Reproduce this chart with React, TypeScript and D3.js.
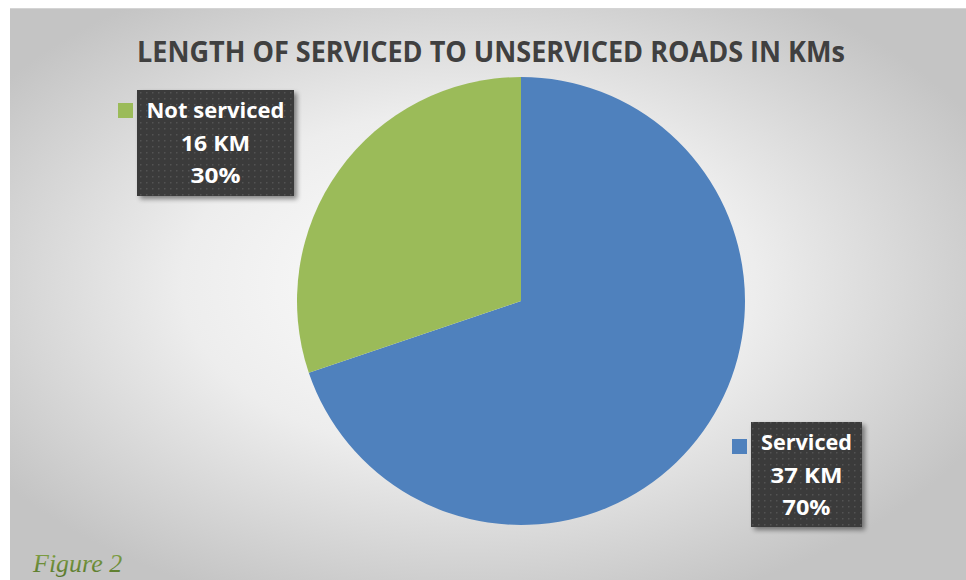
import React from "react";
import * as d3 from "d3";

const categories = ["Serviced", "Not serviced"];
const values = [37, 16];
const valueLabels = ["37 KM", "16 KM"];
const percentLabels = ["70%", "30%"];
const colors = ["#4f81bd", "#9bbb59"];
const title = "LENGTH OF SERVICED TO UNSERVICED ROADS IN KMs";
const caption = "Figure 2";

const W = 966;
const H = 580;

export default function App() {
  const cx = 521;
  const cy = 301;
  const r = 224;
  const pie = d3.pie<number>().sort(null).value((d) => d);
  const arcs = pie(values);
  const arcGen = d3.arc<d3.PieArcDatum<number>>().innerRadius(0).outerRadius(r);

  const boxes = [
    { x: 751, y: 422, w: 111, h: 105, sq: { x: 732, y: 439 }, tw: [91, 72, 48] },
    { x: 137, y: 90, w: 157, h: 106, sq: { x: 118, y: 103 }, tw: [138, 69, 50] },
  ];

  return (
    <svg
      width={W}
      height={H}
      style={{ position: "absolute", left: 0, top: 0, display: "block" }}
      xmlns="http://www.w3.org/2000/svg"
    >
      <defs>
        <radialGradient id="bg" cx="0.48" cy="0.48" r="0.6">
          <stop offset="0" stopColor="#ffffff" />
          <stop offset="0.5" stopColor="#ededed" />
          <stop offset="1" stopColor="#c4c4c4" />
        </radialGradient>
        <pattern id="dots" width="6" height="6" patternUnits="userSpaceOnUse">
          <rect width="6" height="6" fill="#3a3a3a" />
          <rect x="2" y="2" width="1.5" height="1.5" fill="#525252" />
        </pattern>
        <filter id="shadow" x="-10%" y="-10%" width="130%" height="130%">
          <feGaussianBlur in="SourceAlpha" stdDeviation="2.5" />
          <feOffset dx="3" dy="3" result="b" />
          <feComponentTransfer>
            <feFuncA type="linear" slope="0.45" />
          </feComponentTransfer>
          <feMerge>
            <feMergeNode />
            <feMergeNode in="SourceGraphic" />
          </feMerge>
        </filter>
        <linearGradient id="cap" x1="0" y1="0" x2="0" y2="1">
          <stop offset="0" stopColor="#86a648" />
          <stop offset="1" stopColor="#55752a" />
        </linearGradient>
      </defs>
      <rect x={0} y={0} width={W} height={H} fill="#ffffff" />
      <rect x={10} y={8} width={W - 10} height={H - 8} fill="url(#bg)" />
      <line x1={10} x2={W} y1={8.5} y2={8.5} stroke="#d4d4d4" strokeWidth={1} />

      <text
        x={491}
        y={62}
        textAnchor="middle"
        fontFamily="'Open Sans', sans-serif"
        fontWeight={700}
        fontSize={28}
        fill="#404040"
        textLength={708}
        lengthAdjust="spacingAndGlyphs"
      >
        {title}
      </text>

      <g transform={`translate(${cx},${cy})`}>
        {arcs.map((a, i) => (
          <path key={categories[i]} d={arcGen(a) || ""} fill={colors[i]} />
        ))}
      </g>

      {arcs.map((a, i) => {
        const b = boxes[i];
        const lines = [categories[i], valueLabels[i], percentLabels[i]];
        return (
          <g key={"lab" + i}>
            <rect x={b.x} y={b.y} width={b.w} height={b.h} fill="url(#dots)" filter="url(#shadow)" />
            <rect x={b.sq.x} y={b.sq.y} width={15} height={15} fill={colors[i]} />
            {lines.map((t, j) => (
              <text
                key={j}
                x={b.x + b.w / 2}
                y={b.y + 28 + j * 32.5}
                textAnchor="middle"
                fontFamily="'Open Sans', sans-serif"
                fontWeight={700}
                fontSize={22}
                fill="#ffffff"
                textLength={b.tw[j]}
                lengthAdjust="spacingAndGlyphs"
              >
                {t}
              </text>
            ))}
          </g>
        );
      })}

      <text
        x={33}
        y={572}
        fontFamily="'Liberation Serif', serif"
        fontStyle="italic"
        fontSize={26}
        fill="url(#cap)"
      >
        {caption}
      </text>
    </svg>
  );
}
